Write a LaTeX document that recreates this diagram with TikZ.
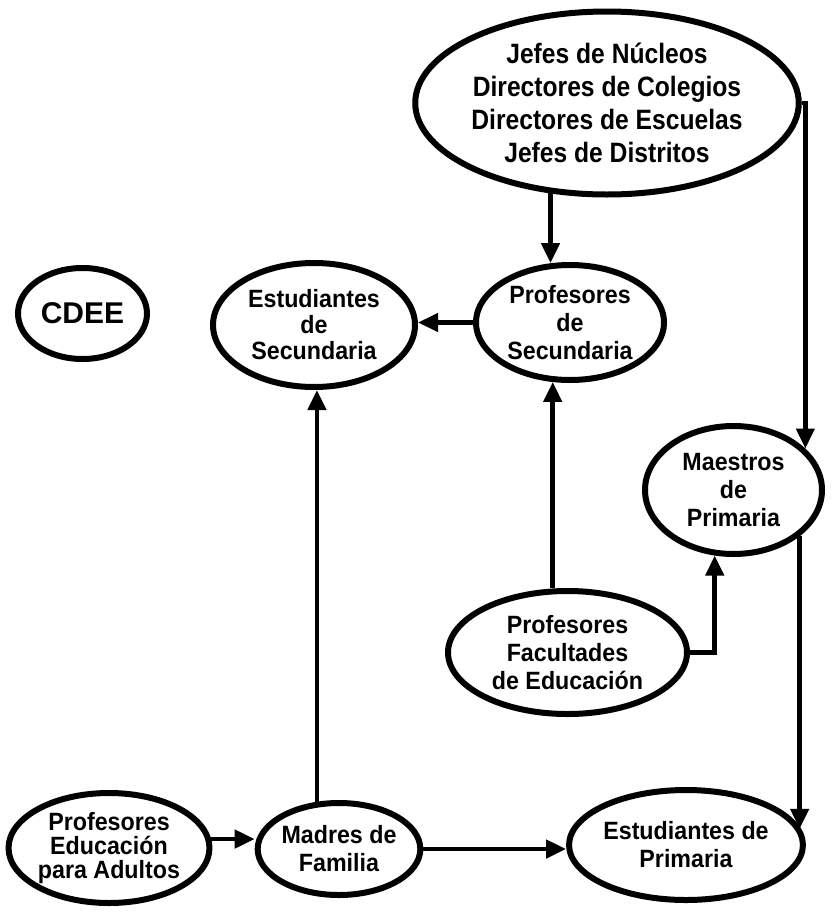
\documentclass[tikz,border=0pt]{standalone}
\usepackage{fontspec}
\setmainfont{Liberation Sans}
\newfontfamily\condf{Liberation Sans}[FakeStretch=0.93]
\newfontfamily\jefesf{Liberation Sans}[FakeStretch=0.88]
\usetikzlibrary{arrows.meta,shapes.geometric}
\begin{document}
\begin{tikzpicture}[x=1pt,y=-1pt,
  oval/.style={ellipse, draw, line width=6pt, inner sep=0pt, fill=white, align=center,
    font=\condf\bfseries\fontsize{25}{26}\selectfont},
  arr/.style={line width=4.5pt, -{Triangle[length=20pt,width=18pt]}}]
\useasboundingbox (0,0) rectangle (837,913);
\node[oval, minimum width=360pt, minimum height=183pt, font=\jefesf\bfseries\fontsize{28}{33}\selectfont] (jefes) at (607,103)
  {Jefes de Núcleos\\Directores de Colegios\\Directores de Escuelas\\Jefes de Distritos};
\node[oval, minimum width=129pt, minimum height=91pt, font=\bfseries\fontsize{30}{32}\selectfont] (cdee) at (82.5,313.5) {CDEE};
\node[oval, minimum width=202pt, minimum height=124pt] (estsec) at (314,325) {Estudiantes\\de\\Secundaria};
\node[oval, minimum width=188pt, minimum height=115pt, font=\condf\bfseries\fontsize{25}{28}\selectfont] (profsec) at (570,322.5) {Profesores\\de\\Secundaria};
\node[oval, minimum width=177pt, minimum height=128pt, font=\condf\bfseries\fontsize{25}{28}\selectfont] (maestros) at (733.5,490) {Maestros\\de\\Primaria};
\node[oval, minimum width=239pt, minimum height=123pt, font=\condf\bfseries\fontsize{25}{28}\selectfont] (facult) at (567.5,652.5) {Profesores\\Facultades\\de Educación};
\node[oval, minimum width=192pt, minimum height=110pt, font=\condf\bfseries\fontsize{25}{24}\selectfont] (adultos) at (109,848) {Profesores\\Educación\\para Adultos};
\node[oval, minimum width=156pt, minimum height=92pt, font=\condf\bfseries\fontsize{25}{28}\selectfont] (madres) at (339,849) {Madres de\\Familia};
\node[oval, minimum width=222pt, minimum height=110pt, font=\condf\bfseries\fontsize{25}{28}\selectfont] (estprim) at (686,845) {Estudiantes de\\Primaria};

\draw[arr] (jefes.-122) -- (jefes.-122 |- profsec.107);
\draw[arr] (jefes.east) -| (maestros.30);
\draw[arr] (profsec.west) -- (profsec.west -| estsec.east);
\draw[arr] (facult.103) -- (facult.103 |- profsec.-107);
\draw[arr] (facult.east) -| (maestros.-106);
\draw[arr] (maestros.-35) -- (maestros.-35 |- estprim.8);
\draw[arr] (adultos.5) -- (adultos.5 -| madres.west);
\draw[arr] (madres.115) -- (madres.115 |- estsec.south);
\draw[arr] (madres.east) -- (madres.east -| estprim.west);
\end{tikzpicture}
\end{document}
